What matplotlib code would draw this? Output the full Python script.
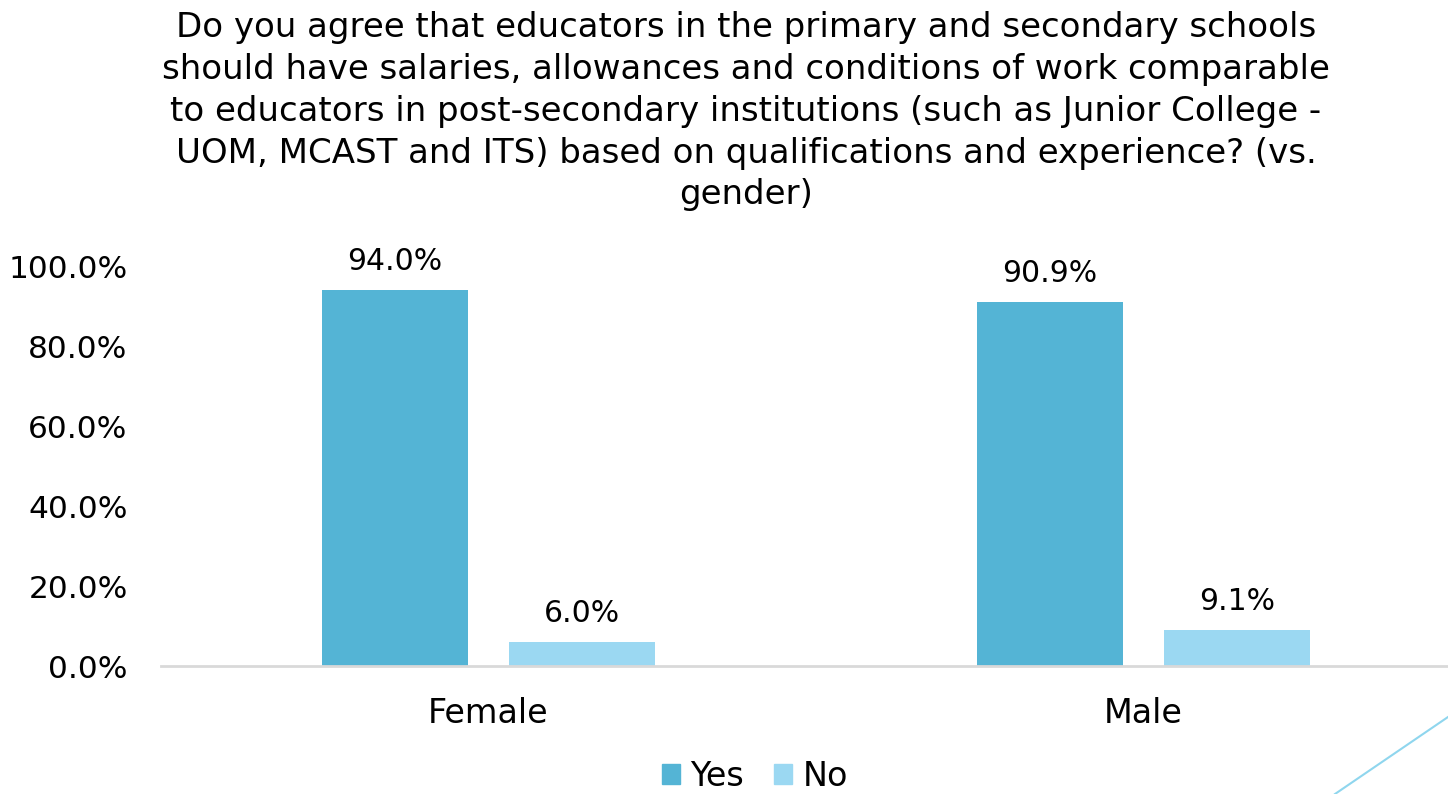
import matplotlib
matplotlib.use("Agg")
import matplotlib.pyplot as plt
from matplotlib.lines import Line2D
from matplotlib.patches import Patch
import numpy as np

categories = ["Female", "Male"]
yes_vals = [94.0, 90.9]
no_vals = [6.0, 9.1]
yticks = [0, 20, 40, 60, 80, 100]

title = ("Do you agree that educators in the primary and secondary schools\n"
         "should have salaries, allowances and conditions of work comparable\n"
         "to educators in post-secondary institutions (such as Junior College -\n"
         "UOM, MCAST and ITS) based on qualifications and experience? (vs.\n"
         "gender)")

yes_color = "#54B4D5"
no_color = "#9BD8F2"

W, H = 1448, 794
fig = plt.figure(figsize=(W / 100, H / 100), dpi=100)
plt.rcParams['font.family'] = ['DejaVu Sans']

# axes placed in pixel terms: left 161, right 1448, baseline 666, top (100%) 266
ax = fig.add_axes([161 / W, 1 - 666 / H, (W - 161) / W, 400 / H])

x = np.arange(len(categories))
bw = 0.223
off = 0.143
b1 = ax.bar(x - off, yes_vals, bw, color=yes_color)
b2 = ax.bar(x + off, no_vals, bw, color=no_color)

for bars, vals in [(b1, yes_vals), (b2, no_vals)]:
    for b, v in zip(bars, vals):
        ax.text(b.get_x() + b.get_width() / 2, v + 3.5, "%.1f%%" % v,
                ha='center', va='bottom', fontsize=21.5)

ax.set_xlim(-0.5, -0.5 + (W - 161) / 655)
ax.set_ylim(0, 100)
ax.set_yticks(yticks)
ax.set_yticklabels(["%.1f%%" % t for t in yticks], fontsize=22.5)
ax.set_xticks(x)
ax.set_xticklabels(categories, fontsize=24)
ax.tick_params(axis='both', length=0)
ax.tick_params(axis='y', pad=24)
ax.tick_params(axis='x', pad=22)
for s in ['top', 'right', 'left']:
    ax.spines[s].set_visible(False)
ax.spines['bottom'].set_color('#D9D9D9')
ax.spines['bottom'].set_linewidth(2)
ax.spines['bottom'].set_clip_on(False)

fig.text(746 / W, 1 - 11 / H, title, ha='center', va='top', fontsize=24.5,
         linespacing=1.34)

handles = [Patch(color=yes_color, label="Yes"), Patch(color=no_color, label="No")]
fig.legend(handles=handles, loc='center', bbox_to_anchor=(755 / W, 1 - 776 / H),
           ncol=2, frameon=False, fontsize=24, handlelength=0.55, handleheight=0.55,
           handletextpad=0.3, columnspacing=0.9, borderpad=0.1)

# decorative diagonal line at bottom right
fig.add_artist(Line2D([1335 / W, 1.0], [0, 1 - 717 / H], color="#8FD6EE",
                      linewidth=1.5, transform=fig.transFigure))

fig.savefig("out.png", dpi=100)
